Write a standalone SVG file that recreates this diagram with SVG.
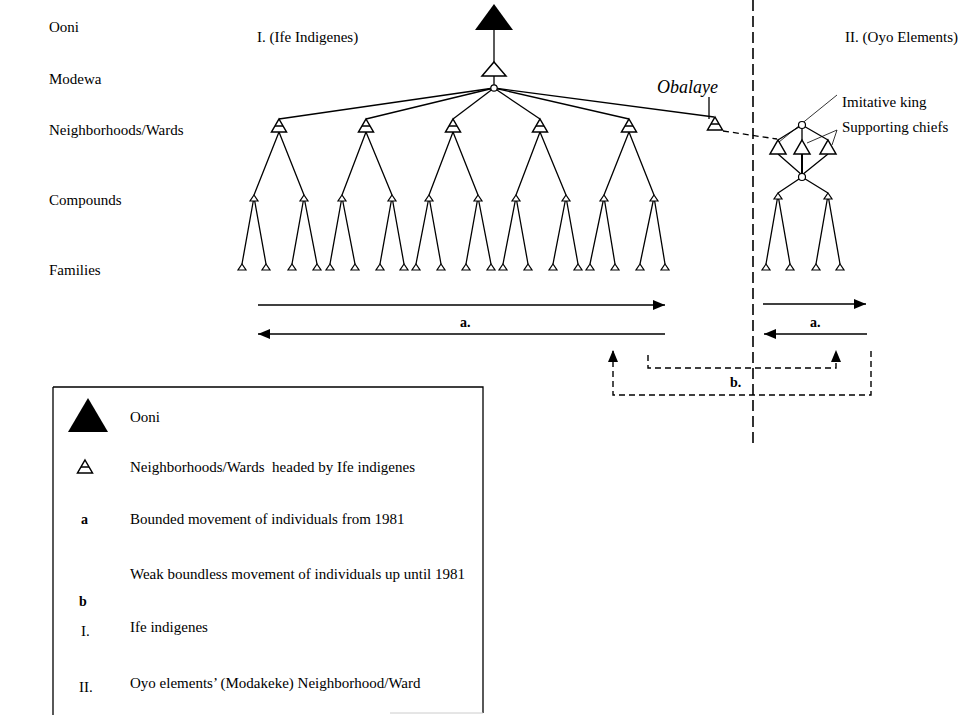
<svg xmlns="http://www.w3.org/2000/svg" width="962" height="715" viewBox="0 0 962 715">
  <style>
    text { font-family: "Liberation Serif", "Times New Roman", serif; fill: #000; }
    .lbl { font-size: 15px; }
    .bold { font-size: 14px; font-weight: bold; }
    .ln { stroke: #000; stroke-width: 1.3; fill: none; }
    .thin { stroke: #000; stroke-width: 0.8; fill: none; }
    .dash { stroke: #000; stroke-width: 1.4; fill: none; stroke-dasharray: 6 4; }
    .divider { stroke: #000; stroke-width: 1.6; fill: none; stroke-dasharray: 11 5; }
    .arrow { stroke: #000; stroke-width: 1.4; fill: none; }
    .tri { stroke: #000; stroke-width: 1.5; fill: #fff; stroke-linejoin: miter; }
    .stri { stroke: #000; stroke-width: 1.2; fill: #fff; }
    .dot { stroke: #000; stroke-width: 1.2; fill: #fff; }
  </style>
  <defs>
    <marker id="ah" viewBox="0 0 12 10" refX="12" refY="5" markerWidth="12" markerHeight="10" markerUnits="userSpaceOnUse" orient="auto">
      <path d="M0,0 L12,5 L0,10 z" fill="#000"/>
    </marker>
    <!-- ward head: open triangle crossed by a bar -->
    <g id="ward">
      <path class="tri" d="M0,0 L7.5,13 L-7.5,13 z"/>
      <line x1="-4" y1="7" x2="4" y2="7" stroke="#000" stroke-width="1.5"/>
    </g>
    <!-- compound / family marker -->
    <path id="small" class="stri" d="M0,0 L4,6 L-4,6 z"/>
    <!-- Oyo chief -->
    <path id="chief" class="tri" d="M0,0 L8,14 L-8,14 z"/>
  </defs>

  <!-- level labels -->
  <g id="levels">
    <text class="lbl" x="49" y="32">Ooni</text>
    <text class="lbl" x="49" y="84">Modewa</text>
    <text class="lbl" x="49" y="135">Neighborhoods/Wards</text>
    <text class="lbl" x="49" y="205">Compounds</text>
    <text class="lbl" x="49" y="275">Families</text>
  </g>

  <g id="headings">
    <text class="lbl" x="257" y="42">I. (Ife Indigenes)</text>
    <text class="lbl" x="958" y="42" text-anchor="end">II. (Oyo Elements)</text>
  </g>

  <!-- connectors -->
  <g id="connectors">
    <!-- Ooni to Modewa -->
    <line class="ln" x1="494" y1="30" x2="494" y2="62"/>
    <line class="ln" x1="494" y1="76" x2="494" y2="85"/>
    <!-- Modewa to wards -->
    <line class="ln" x1="494" y1="88" x2="279" y2="119"/>
    <line class="ln" x1="494" y1="88" x2="366" y2="119"/>
    <line class="ln" x1="494" y1="88" x2="453" y2="119"/>
    <line class="ln" x1="494" y1="88" x2="540" y2="119"/>
    <line class="ln" x1="494" y1="88" x2="629" y2="119"/>
    <line class="ln" x1="494" y1="88" x2="714" y2="117"/>
    <!-- wards to compounds -->
    <path class="ln" d="M279,132 L254,195 M279,132 L304,195"/>
    <path class="ln" d="M366,132 L342,195 M366,132 L392,195"/>
    <path class="ln" d="M453,132 L429,195 M453,132 L478,195"/>
    <path class="ln" d="M540,132 L516,195 M540,132 L566,195"/>
    <path class="ln" d="M629,132 L604,195 M629,132 L654,195"/>
    <!-- compounds to families -->
    <path class="ln" d="M254,197 L242,264 M254,197 L266,264 M304,197 L292,264 M304,197 L317,264"/>
    <path class="ln" d="M342,197 L330,264 M342,197 L355,264 M392,197 L380,264 M392,197 L404,264"/>
    <path class="ln" d="M429,197 L416,264 M429,197 L441,264 M478,197 L466,264 M478,197 L491,264"/>
    <path class="ln" d="M516,197 L503,264 M516,197 L528,264 M566,197 L553,264 M566,197 L578,264"/>
    <path class="ln" d="M604,197 L590,264 M604,197 L615,264 M654,197 L640,264 M654,197 L665,264"/>
    <!-- Obalaye tag and link to the Oyo quarter -->
    <line class="ln" x1="709" y1="97" x2="709" y2="119"/>
    <line class="ln" x1="723" y1="131" x2="777" y2="139" stroke-dasharray="6 4"/>
    <!-- Oyo structure -->
    <path class="ln" d="M802,125 L778,140 M802,125 L802,140 M802,125 L828,140"/>
    <path class="ln" d="M778,154 L802,175 M828,154 L802,175"/>
    <line x1="802" y1="154" x2="802" y2="174" stroke="#000" stroke-width="2"/>
    <path class="ln" d="M802,177 L778,193 M802,177 L828,193"/>
    <path class="ln" d="M778,195 L766,264 M778,195 L790,264 M828,195 L816,264 M828,195 L840,264"/>
    <!-- label leaders -->
    <line class="thin" x1="837" y1="95" x2="779" y2="142"/>
    <path class="thin" d="M837,130 L807,143 M837,130 L832,145"/>
    <!-- divider between the two groups -->
    <line class="divider" x1="753" y1="0" x2="753" y2="443"/>
    <!-- a: bounded movement -->
    <line class="arrow" x1="258" y1="305" x2="665" y2="305" marker-end="url(#ah)"/>
    <line class="arrow" x1="665" y1="334" x2="258" y2="334" marker-end="url(#ah)"/>
    <line class="arrow" x1="763" y1="304" x2="866" y2="304" marker-end="url(#ah)"/>
    <line class="arrow" x1="867" y1="334" x2="764" y2="334" marker-end="url(#ah)"/>
    <!-- b: weak boundless movement -->
    <path class="dash" d="M648,355 V368 H836 V350" marker-end="url(#ah)"/>
    <path class="dash" d="M871,351 V395 H613 V350" marker-end="url(#ah)"/>
  </g>

  <g id="movement-labels">
    <text class="bold" x="460" y="327">a.</text>
    <text class="bold" x="810" y="327">a.</text>
    <text class="bold" x="730" y="387">b.</text>
  </g>

  <!-- nodes -->
  <g id="ooni">
    <path d="M494,4 L513,30 L475,30 z" fill="#000"/>
  </g>
  <g id="modewa">
    <path class="tri" d="M494,62 L506,76 L482,76 z"/>
    <circle class="dot" cx="494" cy="88" r="3.2"/>
  </g>
  <g id="wards">
    <use href="#ward" x="279" y="119"/>
    <use href="#ward" x="366" y="119"/>
    <use href="#ward" x="453" y="119"/>
    <use href="#ward" x="540" y="119"/>
    <use href="#ward" x="629" y="119"/>
  </g>
  <g id="obalaye">
    <use href="#ward" x="715" y="117"/>
    <text x="657" y="93" font-size="18" font-style="italic">Obalaye</text>
  </g>
  <g id="compounds">
    <use href="#small" x="254" y="195"/><use href="#small" x="304" y="195"/>
    <use href="#small" x="342" y="195"/><use href="#small" x="392" y="195"/>
    <use href="#small" x="429" y="195"/><use href="#small" x="478" y="195"/>
    <use href="#small" x="516" y="195"/><use href="#small" x="566" y="195"/>
    <use href="#small" x="604" y="195"/><use href="#small" x="654" y="195"/>
  </g>
  <g id="families">
    <use href="#small" x="242" y="264"/><use href="#small" x="266" y="264"/>
    <use href="#small" x="292" y="264"/><use href="#small" x="317" y="264"/>
    <use href="#small" x="330" y="264"/><use href="#small" x="355" y="264"/>
    <use href="#small" x="380" y="264"/><use href="#small" x="404" y="264"/>
    <use href="#small" x="416" y="264"/><use href="#small" x="441" y="264"/>
    <use href="#small" x="466" y="264"/><use href="#small" x="491" y="264"/>
    <use href="#small" x="503" y="264"/><use href="#small" x="528" y="264"/>
    <use href="#small" x="553" y="264"/><use href="#small" x="578" y="264"/>
    <use href="#small" x="590" y="264"/><use href="#small" x="615" y="264"/>
    <use href="#small" x="640" y="264"/><use href="#small" x="665" y="264"/>
  </g>
  <g id="oyo">
    <circle class="dot" cx="802" cy="125" r="3.5"/>
    <use href="#chief" x="778" y="140"/>
    <use href="#chief" x="802" y="140"/>
    <use href="#chief" x="828" y="140"/>
    <circle class="dot" cx="802" cy="177" r="3.5"/>
    <use href="#small" x="778" y="193"/><use href="#small" x="828" y="193"/>
    <use href="#small" x="766" y="264"/><use href="#small" x="790" y="264"/>
    <use href="#small" x="816" y="264"/><use href="#small" x="840" y="264"/>
    <text class="lbl" x="842" y="107">Imitative king</text>
    <text class="lbl" x="842" y="132">Supporting chiefs</text>
  </g>

  <!-- key -->
  <g id="legend">
    <path d="M53,387 V715 M53,387 H483 V713" class="ln"/>
    <line x1="390" y1="713" x2="483" y2="713" stroke="#ccc" stroke-width="1"/>
    <path d="M88,398 L108,432 L68,432 z" fill="#000"/>
    <text class="lbl" x="130" y="422">Ooni</text>
    <use href="#ward" x="85" y="460"/>
    <text class="lbl" x="130" y="472" xml:space="preserve">Neighborhoods/Wards  headed by Ife indigenes</text>
    <text class="bold" x="81" y="524">a</text>
    <text class="lbl" x="130" y="524">Bounded movement of individuals from 1981</text>
    <text class="bold" x="79" y="606">b</text>
    <text class="lbl" x="130" y="579">Weak boundless movement of individuals up until 1981</text>
    <text class="lbl" x="81" y="636">I.</text>
    <text class="lbl" x="130" y="632">Ife indigenes</text>
    <text class="lbl" x="79" y="692">II.</text>
    <text class="lbl" x="130" y="688">Oyo elements’ (Modakeke) Neighborhood/Ward</text>
  </g>
</svg>
